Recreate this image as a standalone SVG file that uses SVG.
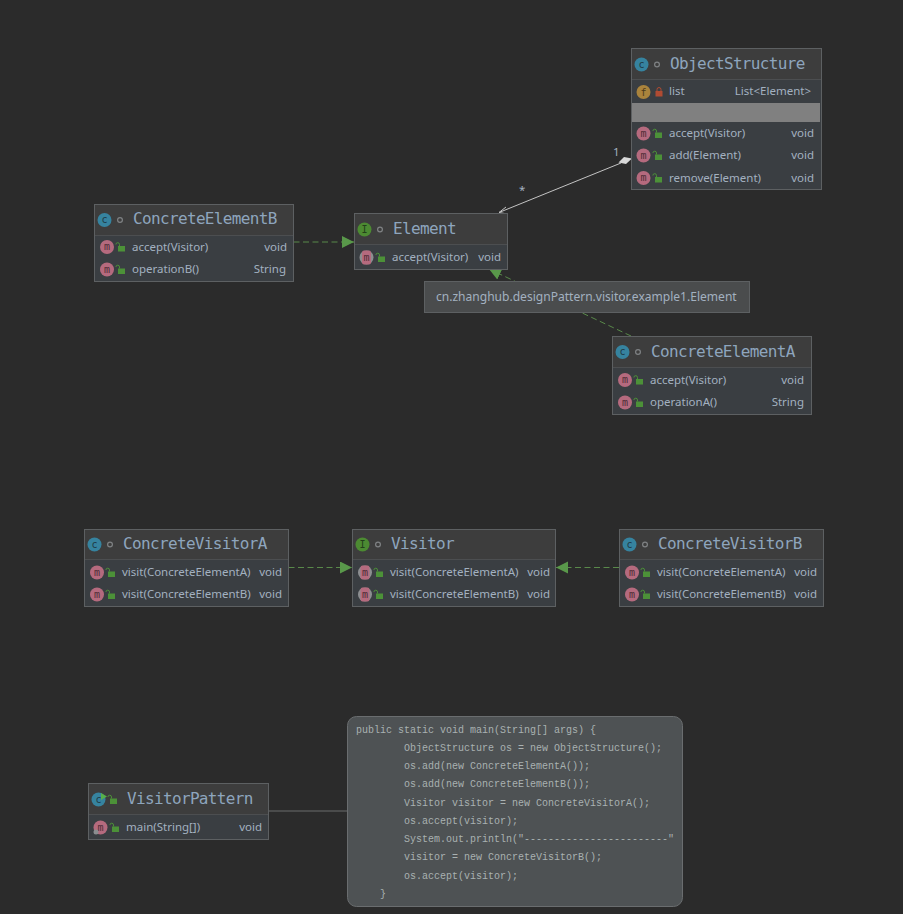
<svg xmlns="http://www.w3.org/2000/svg" width="903" height="914" viewBox="0 0 903 914">
<style>
.bg{fill:#2b2b2b}
.box{fill:#3a3e42;stroke:#5d6062;stroke-width:1}
.head{fill:#3d3d3d}
.sep{stroke:#4c4e50;stroke-width:1}
.title{font:16px "DejaVu Sans Mono",monospace;fill:#8ea5bd;letter-spacing:-.65px}
.t{font:11.5px "Noto Sans","Liberation Sans",sans-serif;fill:#a3b1c0}
.r{text-anchor:end}
.ltr{font:10px "DejaVu Sans Mono",monospace;text-anchor:middle}
.dash{fill:none;stroke:#59894a;stroke-width:1;stroke-dasharray:6 3.500}
.note{font:10px "Liberation Mono",monospace;fill:#a9b1b1;white-space:pre}
</style>
<defs>
<marker id="impl" markerUnits="userSpaceOnUse" markerWidth="14" markerHeight="14" refX="12" refY="6" orient="auto"><path d="M0 0L12 6L0 12Z" fill="#59984a"/></marker>
<g id="c"><circle r="7" fill="#36839f"/><text class="ltr" y="3" fill="#1f3a46">c</text></g>
<g id="i"><circle r="7" fill="#4c8a32"/><text class="ltr" y="3.500" fill="#23401a">I</text></g>
<g id="m"><circle r="7" fill="#b56a7e"/><text class="ltr" y="3" fill="#4e2c35">m</text></g>
<g id="am"><circle r="7" fill="#8c8e90"/><rect x="-4.500" y="-7" width="9" height="14" rx="2" fill="#b56a7e"/><text class="ltr" y="3" fill="#4e2c35">m</text></g>
<g id="f"><circle r="7" fill="#a9833c"/><text class="ltr" y="3.500" fill="#4c3a1a">f</text></g>
<g id="pub"><rect x="-3" y="-1" width="7" height="5.500" fill="#4c9138"/><path d="M-1.500 -1V-2.500a1.800 1.800 0 0 0-3.600 0" fill="none" stroke="#4c9138"/></g>
<g id="priv"><rect x="-3.500" y="-1" width="7" height="5.500" fill="#b04b32"/><path d="M-2 -1V-2.500a2 2 0 0 1 4 0V-1" fill="none" stroke="#b04b32"/></g>
<g id="pkg"><circle r="2.400" fill="none" stroke="#7f8284" stroke-width="1.200"/></g>
</defs>
<rect class="bg" width="903" height="914"/>

<g id="connectors">
<path d="M621 163L499 212.500" fill="none" stroke="#c4c4c4"/>
<path d="M506 207L499 212.500L507.500 214" fill="none" stroke="#c4c4c4"/>
<path d="M632 158.500L624 157L618.500 162.500L626 164Z" fill="#d8d8d8"/>
<path class="dash" d="M293.500 242H354" marker-end="url(#impl)"/>
<path class="dash" d="M631 336L489 269" marker-end="url(#impl)"/>
<path class="dash" d="M288.500 567.500H352" marker-end="url(#impl)"/>
<path class="dash" d="M619 567.500H556" marker-end="url(#impl)"/>
<path d="M268 811H347" fill="none" stroke="#6a6c6d"/>
<text class="t" x="613" y="156">1</text>
<text class="t" x="519" y="194">*</text>
</g>

<g id="ObjectStructure">
<rect class="box" x="631.500" y="48.500" width="190" height="141"/>
<rect class="head" x="632" y="49" width="189" height="30"/>
<line class="sep" x1="632" x2="821" y1="79.500" y2="79.500"/>
<use href="#c" x="641.500" y="64.500"/><use href="#pkg" x="657" y="64.500"/>
<text class="title" x="670" y="69">ObjectStructure</text>
<use href="#f" x="643.500" y="92"/><use href="#priv" x="659" y="92"/>
<text class="t" x="669" y="95">list</text><text class="t r" x="811" y="95">List&lt;Element&gt;</text>
<rect x="632" y="103" width="188" height="19" fill="#808080"/>
<use href="#m" x="643.500" y="133.500"/><use href="#pub" x="658" y="133.500"/>
<text class="t" x="669" y="137">accept(Visitor)</text><text class="t r" x="814" y="137">void</text>
<use href="#m" x="643.500" y="155.500"/><use href="#pub" x="658" y="155.500"/>
<text class="t" x="669" y="159">add(Element)</text><text class="t r" x="814" y="159">void</text>
<use href="#m" x="643.500" y="178"/><use href="#pub" x="658" y="178"/>
<text class="t" x="669" y="182">remove(Element)</text><text class="t r" x="814" y="182">void</text>
</g>

<g id="ConcreteElementB">
<rect class="box" x="94.500" y="204.500" width="199" height="77"/>
<rect class="head" x="95" y="205" width="198" height="30"/>
<line class="sep" x1="95" x2="293" y1="235.500" y2="235.500"/>
<use href="#c" x="104.500" y="220"/><use href="#pkg" x="120" y="220"/>
<text class="title" x="133" y="224">ConcreteElementB</text>
<use href="#m" x="107" y="247"/><use href="#pub" x="121" y="247"/>
<text class="t" x="132" y="251">accept(Visitor)</text><text class="t r" x="287" y="251">void</text>
<use href="#m" x="107" y="269.500"/><use href="#pub" x="121" y="269.500"/>
<text class="t" x="132" y="273">operationB()</text><text class="t r" x="286" y="273">String</text>
</g>

<g id="Element">
<rect class="box" x="354.500" y="213.500" width="153" height="56"/>
<rect class="head" x="355" y="214" width="152" height="30"/>
<line class="sep" x1="355" x2="507" y1="244.500" y2="244.500"/>
<use href="#i" x="364.500" y="229.500"/><use href="#pkg" x="380" y="229.500"/>
<text class="title" x="393" y="234">Element</text>
<use href="#am" x="366.500" y="257.500"/><use href="#pub" x="381" y="257.500"/>
<text class="t" x="392" y="261">accept(Visitor)</text><text class="t r" x="501" y="261">void</text>
</g>

<g id="tooltip">
<rect x="424.500" y="281.500" width="325" height="31" fill="#4a4c4d" stroke="#5d6062"/>
<text class="t" x="436" y="301" style="font-size:12.050px">cn.zhanghub.designPattern.visitor.example1.Element</text>
</g>

<g id="ConcreteElementA">
<rect class="box" x="612.500" y="336.500" width="199" height="78"/>
<rect class="head" x="613" y="337" width="198" height="30"/>
<line class="sep" x1="613" x2="811" y1="367.500" y2="367.500"/>
<use href="#c" x="622.500" y="352"/><use href="#pkg" x="638" y="352"/>
<text class="title" x="651" y="357">ConcreteElementA</text>
<use href="#m" x="625" y="380"/><use href="#pub" x="639" y="380"/>
<text class="t" x="650" y="384">accept(Visitor)</text><text class="t r" x="804" y="384">void</text>
<use href="#m" x="625" y="402.500"/><use href="#pub" x="639" y="402.500"/>
<text class="t" x="650" y="406">operationA()</text><text class="t r" x="804" y="406">String</text>
</g>

<g id="ConcreteVisitorA">
<rect class="box" x="84.500" y="529.500" width="204" height="77"/>
<rect class="head" x="85" y="530" width="203" height="30"/>
<line class="sep" x1="85" x2="288" y1="559.500" y2="559.500"/>
<use href="#c" x="94.500" y="544.500"/><use href="#pkg" x="110" y="544.500"/>
<text class="title" x="123" y="549">ConcreteVisitorA</text>
<use href="#m" x="97" y="572.500"/><use href="#pub" x="111" y="572.500"/>
<text class="t" x="122" y="576">visit(ConcreteElementA)</text><text class="t r" x="282" y="576">void</text>
<use href="#m" x="97" y="594.500"/><use href="#pub" x="111" y="594.500"/>
<text class="t" x="122" y="598">visit(ConcreteElementB)</text><text class="t r" x="282" y="598">void</text>
</g>

<g id="Visitor">
<rect class="box" x="352.500" y="529.500" width="203" height="77"/>
<rect class="head" x="353" y="530" width="202" height="30"/>
<line class="sep" x1="353" x2="555" y1="559.500" y2="559.500"/>
<use href="#i" x="362.500" y="544.500"/><use href="#pkg" x="378" y="544.500"/>
<text class="title" x="391" y="549">Visitor</text>
<use href="#am" x="365" y="572.500"/><use href="#pub" x="379" y="572.500"/>
<text class="t" x="390" y="576">visit(ConcreteElementA)</text><text class="t r" x="550" y="576">void</text>
<use href="#am" x="365" y="594.500"/><use href="#pub" x="379" y="594.500"/>
<text class="t" x="390" y="598">visit(ConcreteElementB)</text><text class="t r" x="550" y="598">void</text>
</g>

<g id="ConcreteVisitorB">
<rect class="box" x="619.500" y="529.500" width="204" height="77"/>
<rect class="head" x="620" y="530" width="203" height="30"/>
<line class="sep" x1="620" x2="823" y1="559.500" y2="559.500"/>
<use href="#c" x="629.500" y="544.500"/><use href="#pkg" x="645" y="544.500"/>
<text class="title" x="658" y="549">ConcreteVisitorB</text>
<use href="#m" x="632" y="572.500"/><use href="#pub" x="646" y="572.500"/>
<text class="t" x="657" y="576">visit(ConcreteElementA)</text><text class="t r" x="817" y="576">void</text>
<use href="#m" x="632" y="594.500"/><use href="#pub" x="646" y="594.500"/>
<text class="t" x="657" y="598">visit(ConcreteElementB)</text><text class="t r" x="817" y="598">void</text>
</g>

<g id="VisitorPattern">
<rect class="box" x="88.500" y="783.500" width="180" height="56"/>
<rect class="head" x="89" y="784" width="179" height="30"/>
<line class="sep" x1="89" x2="268" y1="814.500" y2="814.500"/>
<use href="#c" x="98.500" y="799.500"/><path d="M101 793l6 3.500l-6 3.500Z" fill="#57b04a"/><use href="#pub" x="113" y="799.500"/>
<text class="title" x="127" y="804">VisitorPattern</text>
<use href="#m" x="100.500" y="827.500"/><circle cx="96" cy="832" r="2.500" fill="#8b8e90"/><use href="#pub" x="115" y="827.500"/>
<text class="t" x="126" y="831">main(String[])</text><text class="t r" x="262" y="831">void</text>
</g>

<g id="note">
<rect x="347.500" y="716.500" width="335" height="190" rx="9" fill="#4e5254" stroke="#6a6d6f"/>
<text class="note" x="356" y="733">public static void main(String[] args) {</text>
<text class="note" x="404" y="751">ObjectStructure os = new ObjectStructure();</text>
<text class="note" x="404" y="769">os.add(new ConcreteElementA());</text>
<text class="note" x="404" y="787">os.add(new ConcreteElementB());</text>
<text class="note" x="404" y="806">Visitor visitor = new ConcreteVisitorA();</text>
<text class="note" x="404" y="824">os.accept(visitor);</text>
<text class="note" x="404" y="842">System.out.println("------------------------"</text>
<text class="note" x="404" y="860">visitor = new ConcreteVisitorB();</text>
<text class="note" x="404" y="879">os.accept(visitor);</text>
<text class="note" x="380" y="897">}</text>
</g>
</svg>
